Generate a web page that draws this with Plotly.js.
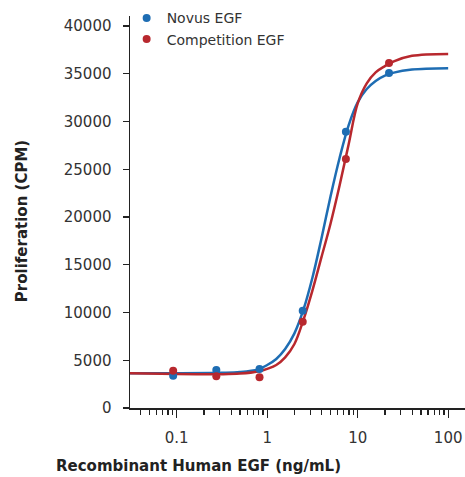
<!DOCTYPE html>
<html>
<head>
<meta charset="utf-8">
<script src="https://cdn.plot.ly/plotly-3.0.1.min.js"></script>
<style>html,body{margin:0;padding:0;background:#fff}#chart{width:465px;height:477px}</style>
</head>
<body>
<div id="chart"></div>
<script>
// Measured points (ng/mL, CPM)
var doseNg = [0.0914, 0.274, 0.823, 2.47, 7.41, 22.2];
var novusCpm = [3380, 3980, 4080, 10190, 28930, 35080];
var competitionCpm = [3900, 3320, 3210, 9040, 26070, 36130];

// Fitted curves
var fitDoseNg = [0.03, 0.1, 0.316, 0.5, 0.794, 1, 1.26, 1.58, 2.0, 2.51, 3.16, 3.98, 5.01, 6.31, 7.94, 10, 12.6, 15.8, 20, 25.1, 39.8, 100];
var novusFitCpm = [3650, 3640, 3680, 3760, 4050, 4500, 5135, 6175, 7813, 10265, 13636, 17760, 22150, 26180, 29600, 32000, 33400, 34250, 34800, 35120, 35440, 35580];
var compFitCpm = [3650, 3560, 3540, 3600, 3820, 4100, 4500, 5300, 6700, 9200, 12300, 15800, 19300, 23300, 27600, 31900, 34000, 35150, 35800, 36300, 36880, 37080];

var xTickVals = [0.1, 1, 10, 100];
var xTickText = ['0.1', '1', '10', '100'];
var yTickVals = [0, 5000, 10000, 15000, 20000, 25000, 30000, 35000, 40000];
var yTickText = ['0', '5000', '10000', '15000', '20000', '25000', '30000', '35000', '40000'];

var blue = '#1e6db3';
var red = '#b8282e';

var traces = [
  {x: fitDoseNg, y: novusFitCpm, mode: 'lines', line: {color: blue, width: 2.5, shape: 'spline', smoothing: 1}, showlegend: false, hoverinfo: 'skip'},
  {x: fitDoseNg, y: compFitCpm, mode: 'lines', line: {color: red, width: 2.5, shape: 'spline', smoothing: 1}, showlegend: false, hoverinfo: 'skip'},
  {x: doseNg, y: novusCpm, mode: 'markers', name: 'Novus EGF', marker: {color: blue, size: 8}},
  {x: doseNg, y: competitionCpm, mode: 'markers', name: 'Competition EGF', marker: {color: red, size: 8}}
];

var font = 'DejaVu Sans, Arial, sans-serif';
var layout = {
  width: 465, height: 477,
  margin: {l: 130, r: 0, t: 16, b: 69, pad: 0},
  paper_bgcolor: '#fff', plot_bgcolor: '#fff',
  font: {family: font, size: 15, color: '#333'},
  showlegend: true,
  legend: {x: -0.01, y: 1.035, xanchor: 'left', yanchor: 'top', font: {family: font, size: 14, color: '#333'}, bgcolor: 'rgba(0,0,0,0)', itemwidth: 30, tracegroupgap: 0},
  xaxis: {
    type: 'log', range: [-1.516, 2.186],
    tickmode: 'array', tickvals: xTickVals, ticktext: xTickText,
    ticks: 'outside', ticklen: 8, tickwidth: 1.2, tickcolor: '#222',
    minor: {dtick: 'D1', ticks: 'outside', ticklen: 5, tickwidth: 1.2, tickcolor: '#222', showgrid: false},
    showline: true, linecolor: '#222', linewidth: 1.5,
    showgrid: false, zeroline: false,
    tickfont: {family: font, size: 15, color: '#333'},
    ticklabelstandoff: 7
  },
  yaxis: {
    range: [0, 41050],
    tickmode: 'array', tickvals: yTickVals, ticktext: yTickText,
    ticks: 'outside', ticklen: 6, tickwidth: 1.2, tickcolor: '#222',
    showline: true, linecolor: '#222', linewidth: 1.5,
    showgrid: false, zeroline: false,
    tickfont: {family: font, size: 15, color: '#333'},
    ticklabelstandoff: 8
  },
  annotations: [
    {text: '<b>Recombinant Human EGF (ng/mL)</b>', xref: 'paper', yref: 'paper', x: 0.203, y: -0.147, xanchor: 'center', yanchor: 'middle', showarrow: false, font: {family: font, size: 15, color: '#222'}},
    {text: '<b>Proliferation (CPM)</b>', xref: 'paper', yref: 'paper', x: -0.322, y: 0.477, xanchor: 'center', yanchor: 'middle', textangle: -90, showarrow: false, font: {family: font, size: 15, color: '#222'}}
  ]
};

Plotly.newPlot('chart', traces, layout, {displayModeBar: false, staticPlot: true});
</script>
</body>
</html>
